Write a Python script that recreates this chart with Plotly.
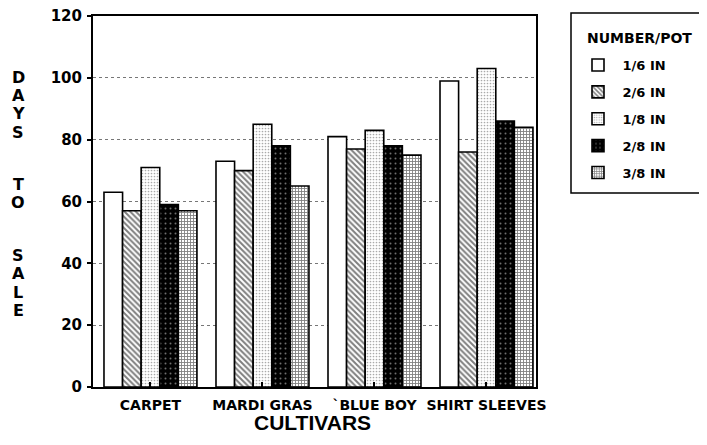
import plotly.graph_objects as go

cultivars = ["CARPET", "MARDI GRAS", "`BLUE BOY", "SHIRT SLEEVES"]
series_names = ["1/6 IN", "2/6 IN", "1/8 IN", "2/8 IN", "3/8 IN"]
v_1_6 = [63, 73, 81, 99]
v_2_6 = [57, 70, 77, 76]
v_1_8 = [71, 85, 83, 103]
v_2_8 = [59, 78, 78, 86]
v_3_8 = [57, 65, 75, 84]
series_values = [v_1_6, v_2_6, v_1_8, v_2_8, v_3_8]
y_ticks = [0, 20, 40, 60, 80, 100, 120]
y_title_letters = ["D", "A", "Y", "S", "T", "O", "S", "A", "L", "E"]

styles = [
    dict(color="white", pattern=dict(shape="")),
    dict(color="white", pattern=dict(shape="\\", fgcolor="black", size=4, solidity=0.5, fillmode="overlay")),
    dict(color="white", pattern=dict(shape=".", fgcolor="#555", size=3, solidity=0.25, fillmode="overlay")),
    dict(color="black", pattern=dict(shape=".", fgcolor="#ddd", size=5, solidity=0.12, fillmode="overlay")),
    dict(color="white", pattern=dict(shape="+", fgcolor="black", size=3, solidity=0.5, fillmode="overlay")),
]

FONT = "DejaVu Sans, Liberation Sans, Arial, sans-serif"
NBSP = "\u00a0"

# the page body has an 8px margin; the figure is sized so it fills the 707x445 window
W, H = 699, 437
ML, MR, MT, MB = 85, 171, 8, 58
PW, PH = W - ML - MR, H - MT - MB


def px_x(px):  # window pixel -> paper x
    return (px - 8 - ML) / PW


def px_y(py):  # window pixel -> paper y
    return 1 - (py - 8 - MT) / PH


fig = go.Figure()
for i, (name, vals) in enumerate(zip(series_names, series_values)):
    st = styles[i]
    fig.add_trace(go.Bar(
        x=cultivars, y=vals, name=NBSP + name, legendgroup=str(i),
        marker=dict(color=st["color"], pattern=st["pattern"],
                    line=dict(color="black", width=1.6)),
    ))

letter_py = [77, 95.5, 114, 132.5, 184, 202.5, 255, 273.5, 292, 310.5]
annotations = [
    dict(text=ch, xref="paper", yref="paper", x=px_x(18), y=px_y(py),
         xanchor="center", yanchor="middle", showarrow=False,
         font=dict(size=16, family=FONT, weight="bold"))
    for ch, py in zip(y_title_letters, letter_py)
]
annotations.append(dict(
    text="CULTIVARS", xref="paper", yref="paper", x=px_x(312), y=px_y(423),
    xanchor="center", yanchor="middle", showarrow=False,
    font=dict(size=21, family="Liberation Sans, Arial, sans-serif", weight="bold"),
))
annotations.append(dict(
    text="NUMBER/POT", xref="paper", yref="paper", x=px_x(585), y=px_y(38),
    xanchor="left", yanchor="middle", showarrow=False,
    font=dict(size=14, family=FONT, weight="bold"),
))

fig.update_layout(
    width=W, height=H,
    margin=dict(l=ML, r=MR, t=MT, b=MB, autoexpand=False),
    paper_bgcolor="white", plot_bgcolor="white",
    barmode="group", bargap=0.17, bargroupgap=0,
    font=dict(family=FONT, color="black", weight="bold"),
    showlegend=True,
    legend=dict(
        x=px_x(578), y=px_y(50), xanchor="left", yanchor="top",
        borderwidth=0, bgcolor="rgba(0,0,0,0)",
        font=dict(size=13, family=FONT, weight="bold"),
        tracegroupgap=7,
    ),
    xaxis=dict(
        range=[-0.513, 3.442],
        showline=True, linecolor="black", linewidth=2, mirror=True,
        ticks="inside", ticklen=5, tickcolor="black", tickwidth=1.5,
        tickfont=dict(size=14, family=FONT, weight="bold"),
        ticklabelstandoff=4,
    ),
    yaxis=dict(
        range=[0, 120.001], tickvals=y_ticks,
        showline=True, linecolor="black", linewidth=2, mirror=True,
        ticks="outside", ticklen=4, tickcolor="black", tickwidth=1.5,
        tickfont=dict(size=15, family=FONT, weight="bold"),
        ticklabelstandoff=2, ticklabeloverflow="allow",
        showgrid=True, gridcolor="#777", griddash="dot", gridwidth=1,
        zeroline=False,
    ),
    annotations=annotations,
    shapes=[dict(
        type="rect", xref="paper", yref="paper",
        x0=px_x(571), x1=px_x(706), y0=px_y(193), y1=px_y(13),
        line=dict(color="black", width=1.5), fillcolor="rgba(0,0,0,0)",
    )],
)

fig.write_html("out.html")
